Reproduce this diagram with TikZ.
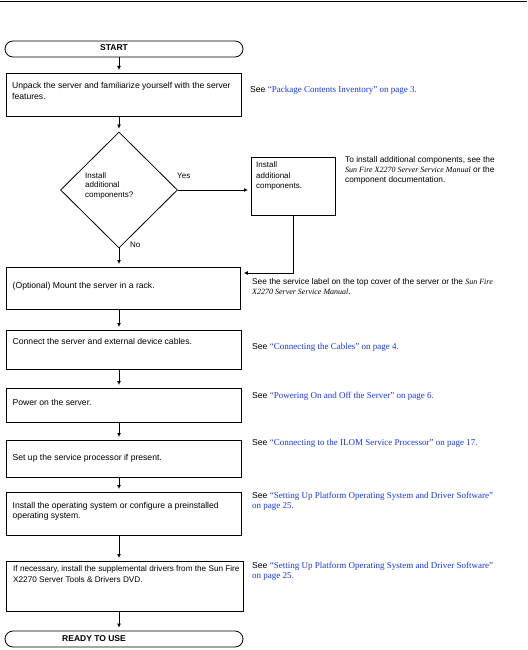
\documentclass[tikz,border=0pt]{standalone}
\usepackage{fontspec}
\setmainfont{Liberation Sans}
\newfontfamily\linkfont{Liberation Serif}
\usetikzlibrary{shapes.geometric,arrows.meta}
\definecolor{linkblue}{RGB}{25,55,215}
\newcommand{\seelink}[1]{{\linkfont\fontsize{9}{10.5}\selectfont\color{linkblue}#1}}
\newcommand{\manual}[1]{{\linkfont\itshape\fontsize{8}{10}\selectfont #1}}
\tikzset{
  stepbox/.style={draw, line width=0.8pt, anchor=north west, inner sep=0pt},
  termbox/.style={draw, line width=0.8pt, rounded corners=8pt, minimum height=16pt, minimum width=238pt, inner sep=0pt},
  decision/.style={draw, diamond, line width=0.8pt, inner sep=0pt, minimum width=117pt, minimum height=116pt},
  txt/.style={anchor=base west, inner sep=0pt, align=left, font=\fontsize{8.6}{10.5}\selectfont},
  smalltxt/.style={txt, font=\fontsize{8}{10.5}\selectfont},
  termtxt/.style={anchor=base west, inner sep=0pt, font=\fontsize{8.5}{10}\selectfont\bfseries},
  flow/.style={-{Latex[length=4pt,width=4pt]}, line width=0.8pt, shorten >=3pt},
}
\begin{document}
\begin{tikzpicture}[x=1pt,y=-1pt]
\useasboundingbox (0,0) rectangle (527,650);
\draw[line width=0.8pt] (0,1) -- (527,1);
% start and end
\node[termbox] (start) at (124,49) {};
\node[termtxt] (starttxt) at (100,51) {START};
\node[termbox] (finish) at (124,639) {};
\node[termtxt] (finishtxt) at (62,641) {READY TO USE};
% steps
\node[stepbox, minimum width=235pt, minimum height=43pt] (b1) at (6,73) {};
\node[decision] (dia) at (119,190) {};
\node[stepbox, minimum width=84pt, minimum height=58pt] (b2) at (251,157) {};
\node[stepbox, minimum width=234pt, minimum height=42pt] (b3) at (6,267) {};
\node[stepbox, minimum width=235pt, minimum height=39pt] (b4) at (6,330) {};
\node[stepbox, minimum width=235pt, minimum height=34pt] (b5) at (6,388) {};
\node[stepbox, minimum width=235pt, minimum height=37pt] (b6) at (6,440) {};
\node[stepbox, minimum width=235pt, minimum height=43pt] (b7) at (6,492) {};
\node[stepbox, minimum width=237pt, minimum height=50pt] (b8) at (6,561) {};
% texts in the boxes (multi-line nodes sit on their last line)
\node[txt, font=\fontsize{8.6}{11}\selectfont] (t1) at (12,99.5) {Unpack the server and familiarize yourself with the server\\features.};
\node[smalltxt, font=\fontsize{8}{9.5}\selectfont] (tdia) at (85,197) {Install\\additional\\components?};
\node[smalltxt] (tyes) at (177,178) {Yes};
\node[smalltxt] (tno) at (130,247) {No};
\node[smalltxt] (t2) at (256,188.5) {Install\\additional\\components.};
\node[txt] (t3) at (12.5,288) {(Optional) Mount the server in a rack.};
\node[txt] (t4) at (12.5,344) {Connect the server and external device cables.};
\node[txt] (t5) at (12.5,405.5) {Power on the server.};
\node[txt] (t6) at (12.5,460) {Set up the service processor if present.};
\node[txt] (t7) at (12.5,518.5) {Install the operating system or configure a preinstalled\\operating system.};
\node[txt, font=\fontsize{8.2}{10.5}\selectfont] (t8) at (13,582) {If necessary, install the supplemental drivers from the Sun Fire\\X2270 Server Tools \& Drivers DVD.};
% notes on the right
\node[txt] (s1) at (250,93) {See \seelink{“Package Contents Inventory” on page 3.}};
\node[txt, font=\fontsize{8.3}{10}\selectfont] (s2) at (345,182) {To install additional components, see the\\\manual{Sun Fire X2270 Server Service Manual} or the\\component documentation.};
\node[txt, font=\fontsize{8.3}{10}\selectfont] (s3) at (252,294) {See the service label on the top cover of the server or the \manual{Sun Fire}\\\manual{X2270 Server Service Manual}.};
\node[txt] (s4) at (252,349) {See \seelink{“Connecting the Cables” on page 4.}};
\node[txt] (s5) at (252,398) {See \seelink{“Powering On and Off the Server” on page 6.}};
\node[txt] (s6) at (252,445) {See \seelink{“Connecting to the ILOM Service Processor” on page 17.}};
\node[txt, font=\fontsize{8.6}{10}\selectfont] (s7) at (252,508) {See \seelink{“Setting Up Platform Operating System and Driver Software”}\\\seelink{on page 25.}};
\node[txt, font=\fontsize{8.6}{10}\selectfont] (s8) at (252,578) {See \seelink{“Setting Up Platform Operating System and Driver Software”}\\\seelink{on page 25.}};
% connectors
\draw[flow] (start.south -| dia) -- (b1.north -| dia);
\draw[flow] (b1.south -| dia) -- (dia.north);
\draw[flow] (dia.east) -- (b2.west |- dia.east);
\draw[flow] (dia.south) -- (b3.north -| dia);
\draw[flow] (b2.south) |- ([yshift=-6pt]b3.north east);
\draw[flow] (b3.south -| dia) -- (b4.north -| dia);
\draw[flow] (b4.south -| dia) -- (b5.north -| dia);
\draw[flow] (b5.south -| dia) -- (b6.north -| dia);
\draw[flow] (b6.south -| dia) -- (b7.north -| dia);
\draw[flow] (b7.south -| dia) -- (b8.north -| dia);
\draw[flow] (b8.south -| dia) -- (finish.north -| dia);
\end{tikzpicture}
\end{document}
